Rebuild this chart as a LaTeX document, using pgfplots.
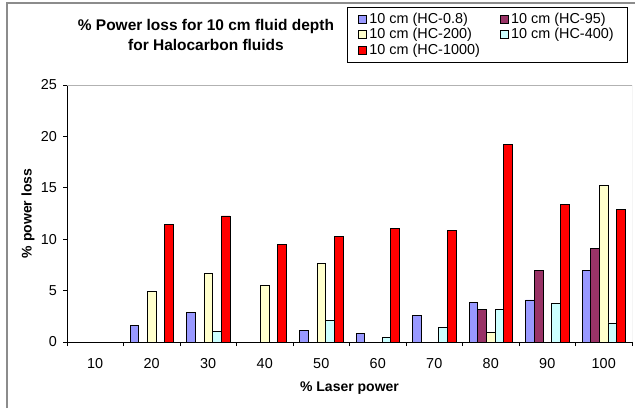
\documentclass[border=0pt]{standalone}
\usepackage{pgfplots}
\pgfplotsset{compat=1.18}
\usepackage{fontspec}
\setmainfont{Liberation Sans}
\definecolor{cBlue}{HTML}{9999FF}
\definecolor{cMaroon}{HTML}{993366}
\definecolor{cYellow}{HTML}{FFFFCC}
\definecolor{cCyan}{HTML}{CCFFFF}
\definecolor{cRed}{HTML}{FF0000}
\begin{document}
\begin{tikzpicture}[x=0.75pt,y=0.75pt]
\path[use as bounding box] (0,0) rectangle (635,-408);
\draw[black!45, line width=0.9pt] (7,-408) -- (7,-3) -- (635,-3);
\node[font=\bfseries\fontsize{11.6}{14.5}\selectfont, align=center] at (206,-35) {\% Power loss for 10 cm fluid depth\\for Halocarbon fluids};
\begin{axis}[
  at={(50.25pt,-256.5pt)}, anchor=south west,
  scale only axis, width=423.75pt, height=192.75pt,
  ybar=0pt, bar width=6.52pt,
  xmin=0.5, xmax=10.5, ymin=0, ymax=25,
  axis lines*=left,
  axis line style={black, line width=0.6pt},
  ytick={0,5,10,15,20,25},
  xtick={1,...,10},
  xticklabels={10,20,30,40,50,60,70,80,90,100},
  minor xtick={0.5,1.5,...,10.5},
  major x tick style={draw=none},
  tick align=outside,
  major tick length=3pt, minor tick length=3pt,
  tick style={black, line width=0.6pt},
  /pgf/number format/assume math mode=true,
  tick label style={font=\fontsize{10.8}{12}\selectfont},
  xticklabel style={yshift=-6pt},
  yticklabel style={xshift=-1pt},
  xlabel={\% Laser power},
  ylabel={\% power loss},
  label style={font=\bfseries\fontsize{10.5}{12}\selectfont},
  xlabel style={at={(axis description cs:0.5,-0.135)}, anchor=north},
  ylabel style={at={(axis description cs:-0.069,0.5)}, anchor=center},
  legend columns=2,
  legend cell align=left,
  legend style={at={(rel axis cs:0.4956,1)}, anchor=south west, yshift=17pt,
    draw=black, line width=0.6pt, font=\fontsize{10.8}{11.2}\selectfont,
    inner xsep=8pt, inner ysep=2pt, row sep=-1.5pt,
    /tikz/every even column/.append style={column sep=13pt}},
  legend image code/.code={\draw[#1, line width=0.5pt] (0pt,-3pt) rectangle (6pt,3pt);},
  every axis plot/.append style={draw=black, line width=0.6pt},
]
\addplot[fill=cBlue] coordinates {(2,1.62) (3,2.89) (5,1.1) (6,0.87) (7,2.56) (8,3.83) (9,4.09) (10,6.94)};
\addplot[fill=cMaroon] coordinates {(8,3.18) (9,6.94) (10,9.08)};
\addplot[fill=cYellow] coordinates {(2,4.93) (3,6.65) (4,5.48) (5,7.68) (8,0.97) (10,15.24)};
\addplot[fill=cCyan] coordinates {(3,1.0) (5,2.08) (6,0.42) (7,1.39) (8,3.18) (9,3.73) (10,1.85)};
\addplot[fill=cRed] coordinates {(2,11.45) (3,12.26) (4,9.47) (5,10.28) (6,11.06) (7,10.86) (8,19.2) (9,13.36) (10,12.87)};
\legend{10 cm (HC-0.8),10 cm (HC-95),10 cm (HC-200),10 cm (HC-400),10 cm (HC-1000)}
\draw[black!30, line width=0.6pt] (rel axis cs:0,1) -- (rel axis cs:1,1) -- (rel axis cs:1,0);
\end{axis}
\end{tikzpicture}
\end{document}
